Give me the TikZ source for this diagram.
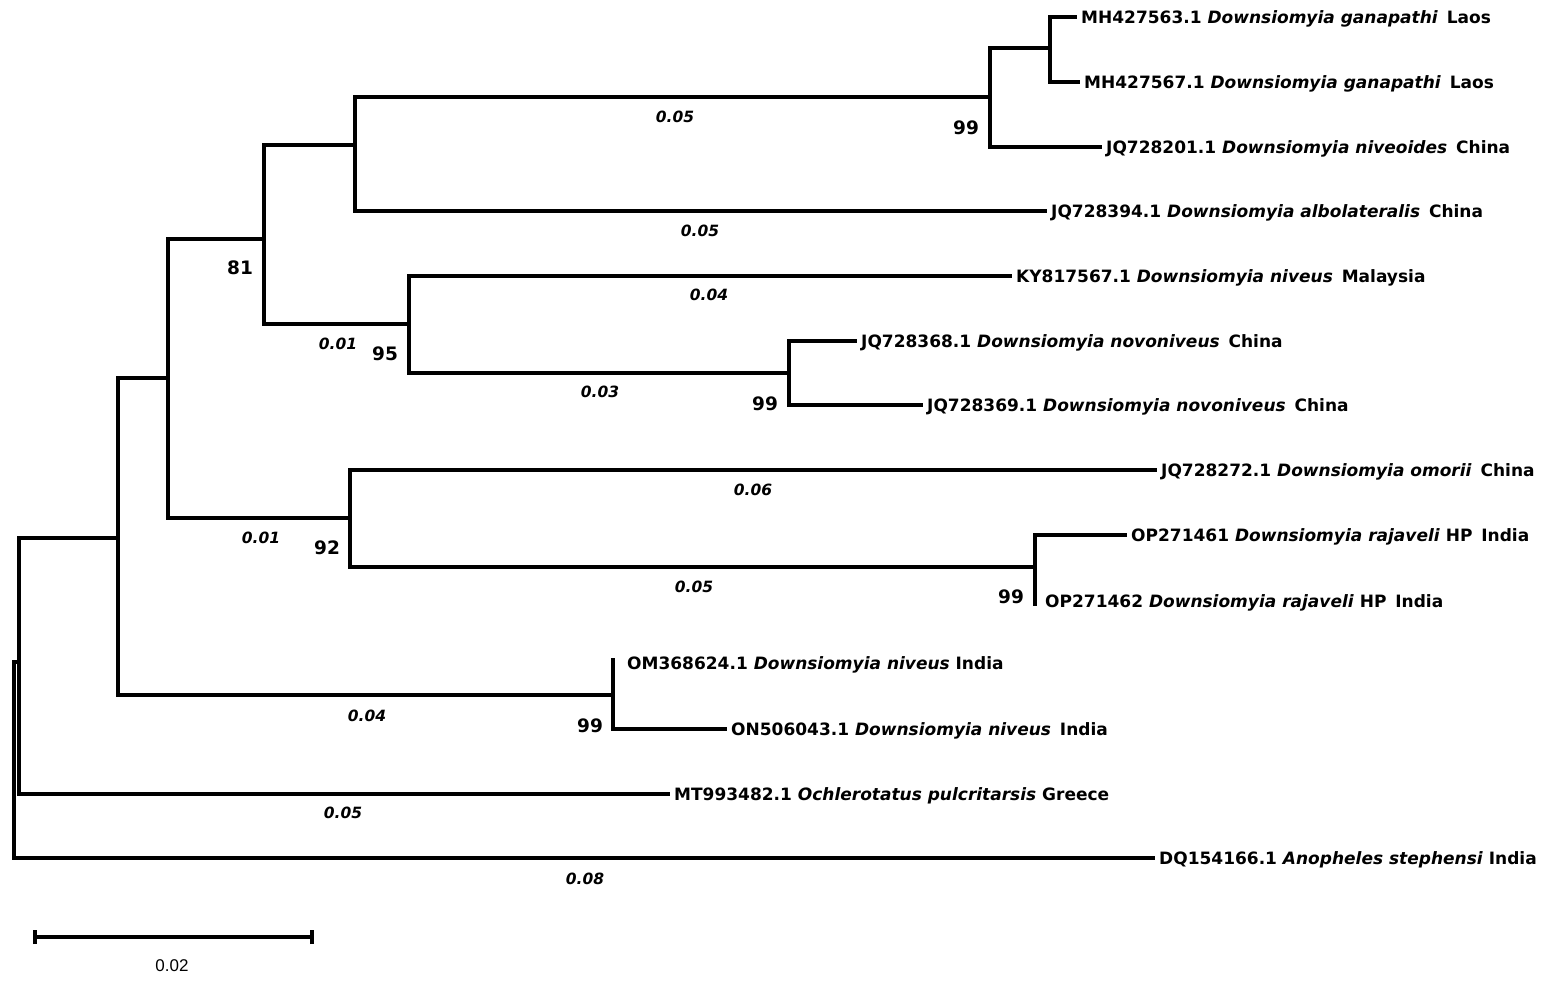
\documentclass[tikz,border=0pt]{standalone}
\usepackage{fontspec}
\setmainfont{DejaVu Sans}
\newfontfamily\barfont{Liberation Sans}
\usepackage{tikz}
\usetikzlibrary{positioning}
\newcommand\gapsp{\hspace{3pt}}

\begin{document}
\begin{tikzpicture}[
    x=1pt, y=-1pt,
    branch/.style={
        draw=black, line width=3.2pt,
        line cap=rect, line join=miter
    },
    taxon/.style={
        anchor=west, inner xsep=6pt, inner ysep=0pt,
        text height=12.4pt, text depth=0pt,
        font=\fontsize{17}{20}\selectfont\bfseries
    },
    boot/.style={
        inner sep=0pt, font=\fontsize{18.5}{20}\selectfont\bfseries
    },
    blen/.style={
        inner sep=0pt, font=\fontsize{15.5}{18}\selectfont\bfseries\itshape
    },
]
\fill[white] (0,0) rectangle (1554,981);
\useasboundingbox (0,0) rectangle (1554,981);

% internal nodes of the tree
\coordinate (root) at (14,760);
\coordinate (nB) at (19,662);
\coordinate (nC) at (118,538);
\coordinate (nD) at (168,378);
\coordinate (nE) at (264,239);
\coordinate (nG) at (355,145);
\coordinate (nI) at (990,97);
\coordinate (nJ) at (1050,48);
\coordinate (nH) at (409,324);
\coordinate (nK) at (789,373);
\coordinate (nF) at (350,518);
\coordinate (nL) at (1035,567);
\coordinate (nOM) at (613,695);

% taxa
\node[taxon] (mh563) at (1075,17) {MH427563.1 \textit{Downsiomyia ganapathi} \gapsp Laos};
\node[taxon] (mh567) at (1078,82) {MH427567.1 \textit{Downsiomyia ganapathi} \gapsp Laos};
\node[taxon] (jq201) at (1100,147) {JQ728201.1 \textit{Downsiomyia niveoides} \gapsp China};
\node[taxon] (jq394) at (1045,211) {JQ728394.1 \textit{Downsiomyia albolateralis} \gapsp China};
\node[taxon] (ky567) at (1010,276) {KY817567.1 \textit{Downsiomyia niveus} \gapsp Malaysia};
\node[taxon] (jq368) at (855,341) {JQ728368.1 \textit{Downsiomyia novoniveus} \gapsp China};
\node[taxon] (jq369) at (921,405) {JQ728369.1 \textit{Downsiomyia novoniveus} \gapsp China};
\node[taxon] (jq272) at (1155,470) {JQ728272.1 \textit{Downsiomyia omorii} \gapsp China};
\node[taxon] (op461) at (1125,535) {OP271461 \textit{Downsiomyia rajaveli} HP \gapsp India};
\node[taxon, inner xsep=10pt] (op462) at (1035,601) {OP271462 \textit{Downsiomyia rajaveli} HP \gapsp India};
\node[taxon, inner xsep=14pt] (om624) at (613,663) {OM368624.1 \textit{Downsiomyia niveus} India};
\node[taxon] (on043) at (725,729) {ON506043.1 \textit{Downsiomyia niveus} \gapsp India};
\node[taxon] (mt482) at (668,794) {MT993482.1 \textit{Ochlerotatus pulcritarsis} Greece};
\node[taxon] (dq166) at (1153,858) {DQ154166.1 \textit{Anopheles stephensi} India};

% branches
\draw[branch] (root) |- (nB);
\draw[branch] (root) |- (dq166.west);
\draw[branch] (nB) |- (nC);
\draw[branch] (nB) |- (mt482.west);
\draw[branch] (nC) |- (nD);
\draw[branch] (nC) |- (nOM);
\draw[branch] (nD) |- (nE);
\draw[branch] (nD) |- (nF);
\draw[branch] (nE) |- (nG);
\draw[branch] (nE) |- (nH);
\draw[branch] (nG) |- (nI);
\draw[branch] (nG) |- (jq394.west);
\draw[branch] (nI) |- (nJ);
\draw[branch] (nI) |- (jq201.west);
\draw[branch] (nJ) |- (mh563.west);
\draw[branch] (nJ) |- (mh567.west);
\draw[branch] (nH) |- (ky567.west);
\draw[branch] (nH) |- (nK);
\draw[branch] (nK) |- (jq368.west);
\draw[branch] (nK) |- (jq369.west);
\draw[branch] (nF) |- (jq272.west);
\draw[branch] (nF) |- (nL);
\draw[branch] (nL) |- (op461.west);
\draw[branch] (nL) |- ([yshift=-3pt]op462.west);
\draw[branch] (nOM) |- ([yshift=3pt]om624.west);
\draw[branch] (nOM) |- (on043.west);

% bootstrap values
\node[boot] (bsI) at (966,128) {99};
\node[boot] (bsE) at (240,268) {81};
\node[boot] (bsH) at (385,354) {95};
\node[boot] (bsK) at (765,404) {99};
\node[boot] (bsF) at (327,548) {92};
\node[boot] (bsL) at (1011,597) {99};
\node[boot] (bsOM) at (590,726) {99};

% branch lengths
\node[blen] (blI) at (675,117) {0.05};
\node[blen] (bl394) at (700,231) {0.05};
\node[blen] (blKY) at (709,295) {0.04};
\node[blen] (blH) at (338,344) {0.01};
\node[blen] (blK) at (600,392) {0.03};
\node[blen] (bl272) at (753,490) {0.06};
\node[blen] (blF) at (261,538) {0.01};
\node[blen] (blL) at (694,587) {0.05};
\node[blen] (blOM) at (367,716) {0.04};
\node[blen] (blMT) at (343,813) {0.05};
\node[blen] (blDQ) at (585,879) {0.08};

% scale bar
\coordinate (sbL) at (35,937);
\coordinate (sbR) at (312,937);
\draw[branch, line cap=butt] (sbL) -- (sbR);
\draw[branch, line cap=butt] ([yshift=-7pt]sbL) -- ([yshift=7pt]sbL);
\draw[branch, line cap=butt] ([yshift=-7pt]sbR) -- ([yshift=7pt]sbR);
\node[inner sep=0pt, font=\barfont\fontsize{17}{20}\selectfont] (sbText) at (172,966) {0.02};
\end{tikzpicture}
\end{document}
